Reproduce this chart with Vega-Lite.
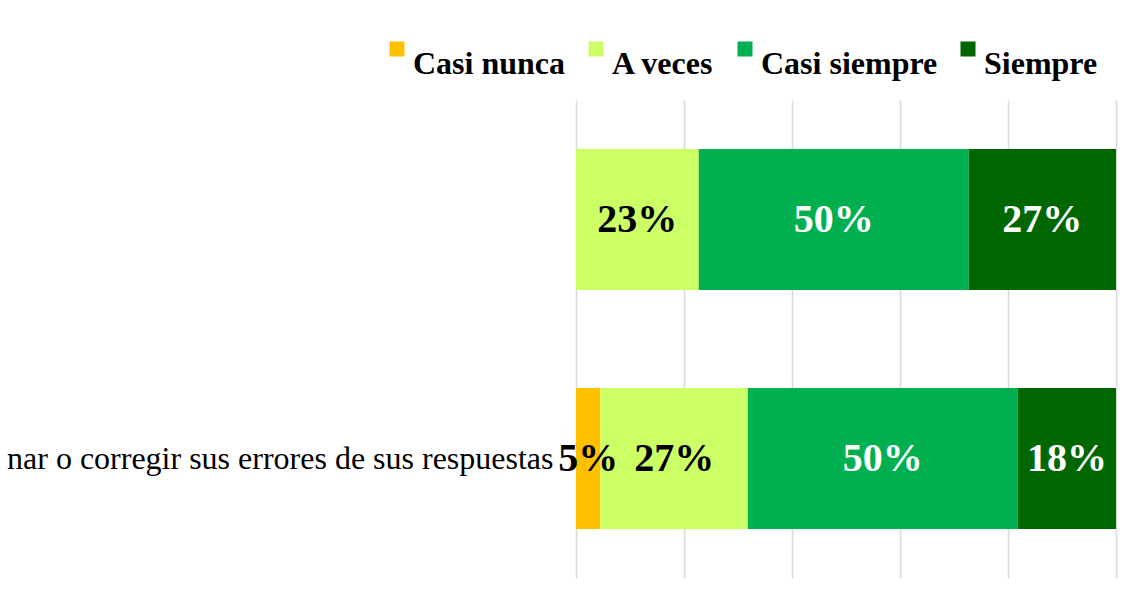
{
  "$schema": "https://vega.github.io/schema/vega-lite/v6.json",
  "width": 540,
  "height": 478,
  "autosize": {"type": "none"},
  "padding": {"left": 576, "top": 100, "right": 19, "bottom": 21},
  "background": "white",
  "config": {"view": {"stroke": null}},
  "data": {
    "values": [
      {"q": " ", "resp": "Casi nunca", "ord": 1, "p": 0.0},
      {"q": " ", "resp": "A veces", "ord": 2, "p": 0.2273},
      {"q": " ", "resp": "Casi siempre", "ord": 3, "p": 0.5},
      {"q": " ", "resp": "Siempre", "ord": 4, "p": 0.2727},
      {"q": "nar o corregir sus errores de sus respuestas", "resp": "Casi nunca", "ord": 1, "p": 0.0455},
      {"q": "nar o corregir sus errores de sus respuestas", "resp": "A veces", "ord": 2, "p": 0.2727},
      {"q": "nar o corregir sus errores de sus respuestas", "resp": "Casi siempre", "ord": 3, "p": 0.5},
      {"q": "nar o corregir sus errores de sus respuestas", "resp": "Siempre", "ord": 4, "p": 0.1818}
    ]
  },
  "encoding": {
    "y": {
      "field": "q", "type": "nominal", "sort": null,
      "scale": {"paddingInner": 0.41, "paddingOuter": 0.205},
      "axis": {"title": null, "domain": false, "ticks": false, "labelFont": "Liberation Serif", "labelFontSize": 32, "labelColor": "black", "labelPadding": 23, "labelLimit": 1000}
    }
  },
  "layer": [
    {
      "mark": {"type": "bar"},
      "encoding": {
        "x": {
          "field": "p", "type": "quantitative", "stack": "zero",
          "scale": {"domain": [0, 1], "nice": false},
          "axis": {"title": null, "labels": false, "ticks": false, "domain": false, "values": [0, 0.2, 0.4, 0.6, 0.8, 1], "grid": true, "gridColor": "#d9d9d9", "gridWidth": 1.5}
        },
        "color": {
          "field": "resp", "type": "nominal",
          "sort": ["Casi nunca", "A veces", "Casi siempre", "Siempre"],
          "scale": {"domain": ["Casi nunca", "A veces", "Casi siempre", "Siempre"], "range": ["#FFC000", "#CCFF66", "#00B050", "#006600"]},
          "legend": {
            "title": null, "orient": "none", "direction": "horizontal",
            "legendX": -195, "legendY": -67, "padding": 0,
            "symbolType": "square", "symbolSize": 225, "symbolStrokeWidth": 0, "symbolOpacity": 1,
            "labelFont": "Liberation Serif", "labelFontSize": 32, "labelFontWeight": "bold", "labelColor": "black",
            "labelBaseline": "top",
            "labelOffset": 0, "columnPadding": 14, "labelLimit": 400
          }
        },
        "order": {"field": "ord", "type": "quantitative"}
      }
    },
    {
      "transform": [{"filter": "datum.p > 0"}],
      "mark": {"type": "text", "font": "Liberation Serif", "fontSize": 40, "fontWeight": "bold", "baseline": "middle", "align": "center"},
      "encoding": {
        "x": {"field": "p", "type": "quantitative", "stack": "zero", "bandPosition": 0.5},
        "detail": {"field": "resp"},
        "order": {"field": "ord", "type": "quantitative"},
        "text": {"field": "p", "type": "quantitative", "format": ".0%"},
        "color": {
          "condition": {"test": "datum.resp == 'Casi nunca' || datum.resp == 'A veces'", "value": "black"},
          "value": "white"
        }
      }
    }
  ]
}
